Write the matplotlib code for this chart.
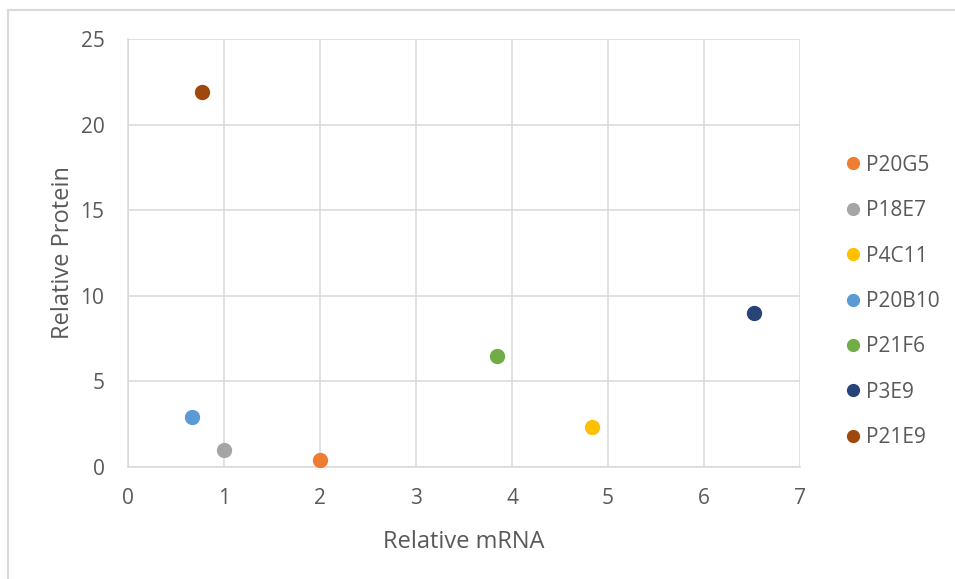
import matplotlib
matplotlib.use("Agg")
import matplotlib.pyplot as plt
from matplotlib.lines import Line2D

names = ["P20G5", "P18E7", "P4C11", "P20B10", "P21F6", "P3E9", "P21E9"]
mrna = [2.0, 1.0, 4.83, 0.67, 3.84, 6.52, 0.77]
protein = [0.41, 0.99, 2.34, 2.92, 6.48, 9.0, 21.9]
colors = ["#ED7D31", "#A5A5A5", "#FFC000", "#5B9BD5", "#70AD47", "#264478", "#9E480E"]

xticks = [0, 1, 2, 3, 4, 5, 6, 7]
yticks = [0, 5, 10, 15, 20, 25]

plt.rcParams['font.family'] = ['Open Sans', 'DejaVu Sans']
txt = "#595959"
grid = "#D9D9D9"

fig = plt.figure(figsize=(9.55, 5.79), dpi=100)
ax = fig.add_axes([128/955, 112/579, 672/955, 428/579])

for n, x, y, c in zip(names, mrna, protein, colors):
    ax.plot([x], [y], 'o', color=c, markersize=10, label=n, zorder=3, clip_on=False)

ax.set_xlim(0, 7)
ax.set_ylim(0, 25)
ax.set_xticks(xticks)
ax.set_yticks(yticks)
ax.grid(True, color=grid, linewidth=1.1)
ax.set_axisbelow(True)
for s in ["top", "right"]:
    ax.spines[s].set_visible(False)
for s in ["left", "bottom"]:
    ax.spines[s].set_color(grid)
    ax.spines[s].set_linewidth(1.1)
ax.tick_params(length=0, labelsize=15, labelcolor=txt)
ax.tick_params(axis='x', pad=15)
ax.tick_params(axis='y', pad=17)
ax.set_xlabel("Relative mRNA", fontsize=17, color=txt, labelpad=15)
ax.set_ylabel("Relative Protein", fontsize=17, color=txt, labelpad=4)

leg = fig.legend(loc="upper left", bbox_to_anchor=(822/955, 1 - 136/579), frameon=False,
                 fontsize=15, labelcolor=txt, handletextpad=0.0, labelspacing=1.17,
                 handlelength=1.2, markerscale=0.85)

# chart border (left and top edges visible)
fig.add_artist(Line2D([7.5/955, 7.5/955], [0, 1 - 9.5/579], transform=fig.transFigure,
                      color=grid, linewidth=1.5))
fig.add_artist(Line2D([7.5/955, 1], [1 - 9.5/579, 1 - 9.5/579], transform=fig.transFigure,
                      color=grid, linewidth=1.5))

fig.savefig("out.png", dpi=100)
